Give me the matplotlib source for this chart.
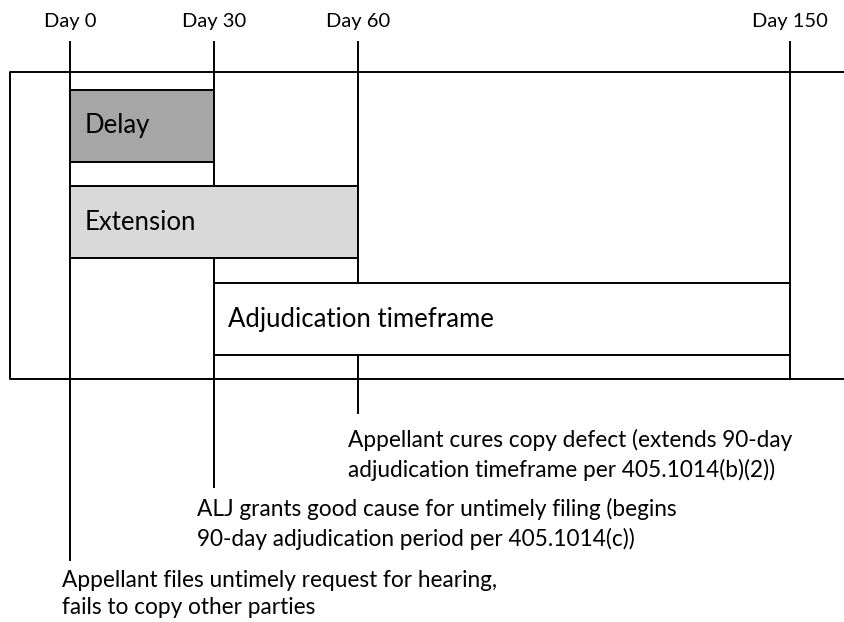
import matplotlib
matplotlib.use("Agg")
from matplotlib import pyplot as plt
from matplotlib.patches import Rectangle

plt.rcParams['font.family'] = ['Lato', 'DejaVu Sans']

# timeline data
days = [0, 30, 60, 150]
day_labels = ["Day 0", "Day 30", "Day 60", "Day 150"]

bar_names = ["Delay", "Extension", "Adjudication timeframe"]
bar_start = [0, 0, 30]
bar_end = [30, 60, 150]
bar_colors = ["#a6a6a6", "#d9d9d9", "#ffffff"]

event_days = [60, 30, 0]
event_texts = [
	"Appellant cures copy defect (extends 90-day\nadjudication timeframe per 405.1014(b)(2))",
	"ALJ grants good cause for untimely filing (begins\n90-day adjudication period per 405.1014(c))",
	"Appellant files untimely request for hearing,\nfails to copy other parties",
]

# layout (pixels)
W, H = 845, 622
px_day = 4.8
x0 = 70
bar_top = [90, 186, 283]
bar_h = 72
line_bottom = {0: 560, 30: 487, 60: 413, 150: 379}
text_y = [455, 524, 594]
text_dx = [-10, -17, -8]

fig = plt.figure(figsize=(W / 100, H / 100), dpi=100)
ax = fig.add_axes([0, 0, 1, 1])
ax.set_xlim(-x0 / px_day, (W - x0) / px_day)
ax.set_ylim(H, 0)
ax.axis('off')

lw = 1.4
left_day = (10 - x0) / px_day
right_day = (W - x0) / px_day

# outer frame, open to the right
ax.plot([right_day, left_day, left_day, right_day], [72, 72, 379, 379], color='black', lw=lw, zorder=3)

for d, lab in zip(days, day_labels):
	ax.plot([d, d], [42, line_bottom[d]], color='black', lw=lw, zorder=1)
	ax.text(d, 22, lab, ha='center', va='center', fontsize=14.5)

for name, s, e, c, t in zip(bar_names, bar_start, bar_end, bar_colors, bar_top):
	ax.add_patch(Rectangle((s, t), e - s, bar_h, facecolor=c, edgecolor='black', lw=lw, zorder=2))
	ax.text(s + 3, t + bar_h / 2, name, ha='left', va='center', fontsize=18.5, zorder=4)

for d, txt, ty, dx in zip(event_days, event_texts, text_y, text_dx):
	ax.text(d + dx / px_day, ty, txt, ha='left', va='center', fontsize=16.3, linespacing=1.4)

fig.savefig("out.png", dpi=100)
